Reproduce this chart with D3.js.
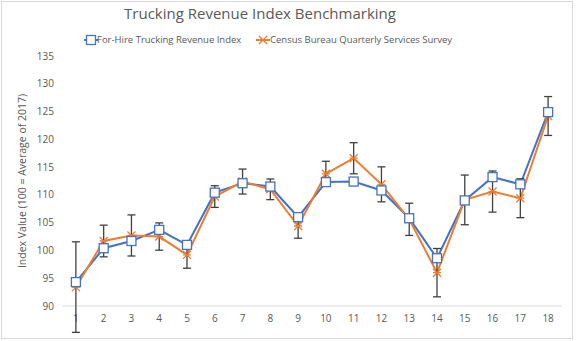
<!DOCTYPE html>
<html><head><meta charset="utf-8">
<script src="https://cdn.jsdelivr.net/npm/d3@7"></script>
<style>
html,body{margin:0;padding:0;background:#fff;}
svg{display:block;font-family:"Open Sans",sans-serif;}
</style></head>
<body>
<svg id="c" width="580" height="341"></svg>
<script>
const categories = ["1","2","3","4","5","6","7","8","9","10","11","12","13","14","15","16","17","18"];
const revenueIndex = [94.3,100.4,101.7,103.7,101.0,110.4,112.1,111.5,106.0,112.3,112.4,110.8,105.8,98.6,109.0,113.2,111.9,124.9];
const censusSurvey = [93.4,101.7,102.7,102.5,99.2,109.7,112.4,111.0,104.4,113.8,116.6,111.9,105.6,96.0,109.1,110.6,109.4,124.2];
const censusError = [8.15,2.85,3.7,2.46,2.4,1.95,2.25,1.86,2.2,2.25,2.8,3.15,2.9,4.35,4.47,3.7,3.5,3.5];
const yTicks = [90,95,100,105,110,115,120,125,130,135];
const seriesNames = ["For-Hire Trucking Revenue Index","Census Bureau Quarterly Services Survey"];
const titleText = "Trucking Revenue Index Benchmarking";
const yTitle = "Index Value (100 = Average of 2017)";

const blue = "#4472C4", orange = "#ED7D31", txt = "#595959";
const svg = d3.select("#c");

svg.append("rect").attr("x",1.5).attr("y",1.5).attr("width",571).attr("height",337)
  .attr("fill","#fff").attr("stroke","#d9d9d9").attr("stroke-width",1);

const x = d3.scaleBand().domain(categories).range([62,562]).padding(0);
const cx = c => x(c) + x.bandwidth()/2;
const y = d3.scaleLinear().domain([90,135]).range([306,56]);

svg.append("text").attr("x",260).attr("y",19).attr("text-anchor","middle")
  .attr("font-size",15).attr("fill",txt).text(titleText);

// y tick labels
svg.append("g").selectAll("text").data(yTicks).join("text")
  .attr("x",54).attr("y",d=>y(d)).attr("dy","0.35em").attr("text-anchor","end")
  .attr("font-size",10).attr("fill",txt).text(d=>d);

// axis line
svg.append("line").attr("x1",62).attr("x2",562).attr("y1",y(90)).attr("y2",y(90))
  .attr("stroke","#d9d9d9").attr("stroke-width",1);

// x labels
svg.append("g").selectAll("text").data(categories).join("text")
  .attr("x",d=>cx(d)).attr("y",322).attr("text-anchor","middle")
  .attr("font-size",10).attr("fill",txt).text(d=>d);

svg.append("text").attr("transform","translate(26,181) rotate(-90)")
  .attr("text-anchor","middle").attr("font-size",10.5).attr("fill",txt).text(yTitle);

const line = d3.line().x((d,i)=>cx(categories[i])).y(d=>y(d));
svg.append("path").datum(revenueIndex).attr("d",line).attr("fill","none")
  .attr("stroke",blue).attr("stroke-width",2);
svg.append("path").datum(censusSurvey).attr("d",line).attr("fill","none")
  .attr("stroke",orange).attr("stroke-width",2);

// error bars
const eb = svg.append("g").attr("stroke","#404040").attr("stroke-width",1.3);
censusSurvey.forEach((v,i)=>{
  const xx = cx(categories[i]), t = y(v+censusError[i]), b = y(v-censusError[i]);
  eb.append("line").attr("x1",xx).attr("x2",xx).attr("y1",t).attr("y2",b);
  eb.append("line").attr("x1",xx-4).attr("x2",xx+4).attr("y1",t).attr("y2",t);
  eb.append("line").attr("x1",xx-4).attr("x2",xx+4).attr("y1",b).attr("y2",b);
});

function xMark(g, xx, yy){
  g.append("path").attr("d",`M${xx-4},${yy-4}L${xx+4},${yy+4}M${xx-4},${yy+4}L${xx+4},${yy-4}M${xx-4},${yy}L${xx+4},${yy}`)
   .attr("stroke",orange).attr("stroke-width",1.3).attr("fill","none");
}
function sqMark(g, xx, yy){
  g.append("rect").attr("x",xx-4.5).attr("y",yy-4.5).attr("width",9).attr("height",9)
   .attr("fill","#fff").attr("stroke",blue).attr("stroke-width",1.3);
}
const mk = svg.append("g");
censusSurvey.forEach((v,i)=>xMark(mk, cx(categories[i]), y(v)));
revenueIndex.forEach((v,i)=>sqMark(mk, cx(categories[i]), y(v)));

// legend
const lg = svg.append("g");
lg.append("line").attr("x1",84).attr("x2",98).attr("y1",40).attr("y2",40).attr("stroke",blue).attr("stroke-width",2);
sqMark(lg, 91, 40);
lg.append("text").attr("x",97).attr("y",40).attr("dy","0.35em").attr("font-size",9.5).attr("fill",txt).text(seriesNames[0]);
lg.append("line").attr("x1",256).attr("x2",270).attr("y1",40).attr("y2",40).attr("stroke",orange).attr("stroke-width",2);
xMark(lg, 263, 40);
lg.append("text").attr("x",270).attr("y",40).attr("dy","0.35em").attr("font-size",9.5).attr("fill",txt).text(seriesNames[1]);
</script>
</body></html>
